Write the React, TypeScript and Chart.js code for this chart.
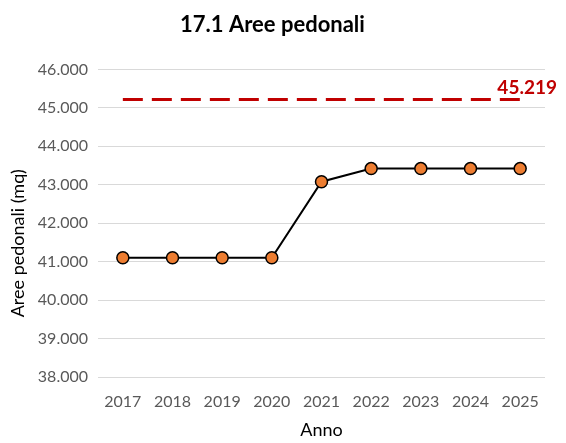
import React, { useEffect, useRef } from "react";
import { Chart, registerables } from "chart.js";

Chart.register(...registerables);

const years = ["2017", "2018", "2019", "2020", "2021", "2022", "2023", "2024", "2025"];
const areaValues = [41100, 41100, 41100, 41100, 43080, 43420, 43420, 43420, 43420];
const targetValues = [45219, 45219, 45219, 45219, 45219, 45219, 45219, 45219, 45219];
const targetLabel = "45.219";
const yAxisTitle = "Aree pedonali (mq)";
const yMin = 38000;
const yMax = 46000;
const yStep = 1000;

const FONT = "Lato, 'Liberation Sans', sans-serif";

function fmt(v: number): string {
  return Math.round(v).toString().replace(/\B(?=(\d{3})+(?!\d))/g, ".");
}

const labelPlugin = {
  id: "targetLabel",
  afterDatasetsDraw(chart: any) {
    const meta = chart.getDatasetMeta(1);
    const ctx = chart.ctx;
    if (meta && meta.data.length) {
      const pt = meta.data[meta.data.length - 1];
      ctx.save();
      ctx.font = `bold 19px ${FONT}`;
      ctx.fillStyle = "#C00000";
      ctx.textAlign = "center";
      ctx.textBaseline = "middle";
      ctx.fillText(targetLabel, pt.x + 7, pt.y - 12);
      ctx.restore();
    }
    // y axis title, centred a little below the plot centre like the original
    const area = chart.chartArea;
    ctx.save();
    ctx.font = `18px ${FONT}`;
    ctx.fillStyle = "#000000";
    ctx.textAlign = "center";
    ctx.textBaseline = "middle";
    ctx.translate(18, (area.top + area.bottom) / 2 + 20);
    ctx.rotate(-Math.PI / 2);
    ctx.fillText(yAxisTitle, 0, 0);
    ctx.restore();
  },
};

export default function App() {
  const ref = useRef<HTMLCanvasElement>(null);
  useEffect(() => {
    document.body.style.margin = "0";
    const chart = new Chart(ref.current!, {
      type: "line",
      data: {
        labels: years,
        datasets: [
          {
            data: areaValues,
            borderColor: "#000000",
            borderWidth: 2,
            pointBackgroundColor: "#ED7D31",
            pointBorderColor: "#000000",
            pointBorderWidth: 1.5,
            pointRadius: 6,
            tension: 0,
            order: 1,
          },
          {
            data: targetValues,
            borderColor: "#C00000",
            borderWidth: 3,
            borderDash: [20, 9],
            pointRadius: 0,
            tension: 0,
            order: 2,
          },
        ],
      },
      options: {
        animation: false,
        responsive: false,
        maintainAspectRatio: false,
        layout: { padding: { left: 0, right: 21, top: 0, bottom: 0 } },
        plugins: {
          legend: { display: false },
          tooltip: { enabled: false },
          title: {
            display: true,
            text: "17.1 Aree pedonali",
            color: "#000000",
            font: { family: FONT, size: 22, weight: "bold" },
            padding: { top: 12, bottom: 31 },
          },
        },
        scales: {
          x: {
            offset: true,
            grid: { display: false, drawTicks: false },
            border: { display: false },
            ticks: { color: "#595959", font: { family: FONT, size: 16 }, padding: 15 },
            title: {
              display: true,
              text: "Anno",
              color: "#000000",
              font: { family: FONT, size: 18 },
              padding: { top: 2, bottom: 2 },
            },
            afterFit(scale: any) {
              scale.height = 66;
            },
          },
          y: {
            min: yMin,
            max: yMax,
            ticks: {
              stepSize: yStep,
              color: "#595959",
              font: { family: FONT, size: 16 },
              padding: 10,
              callback: (v: any) => fmt(Number(v)),
            },
            grid: { color: "#D9D9D9", lineWidth: 1, drawTicks: false },
            border: { display: false },
            title: { display: false },
            afterFit(scale: any) {
              scale.width = 98;
            },
          },
        },
      },
      plugins: [labelPlugin],
    });
    return () => chart.destroy();
  }, []);
  return (
    <div style={{ width: 566, height: 443 }}>
      <canvas ref={ref} width={566} height={443} style={{ display: "block" }} />
    </div>
  );
}
